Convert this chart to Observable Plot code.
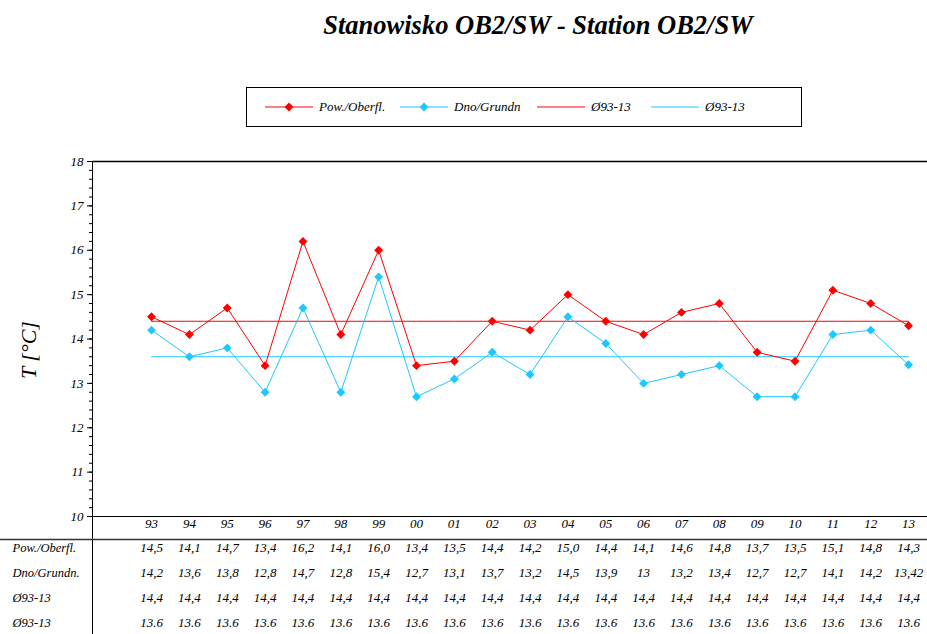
<!DOCTYPE html>
<html>
<head>
<meta charset="utf-8">
<script src="https://cdn.jsdelivr.net/npm/d3@7"></script>
<script src="https://cdn.jsdelivr.net/npm/@observablehq/plot@0.6"></script>
<style>
  html, body { margin: 0; padding: 0; background: #fff; }
  #wrap { position: relative; width: 927px; height: 634px; overflow: hidden; font-family: "Liberation Serif", "Times New Roman", "DejaVu Serif", serif; font-style: italic; }
  #head { position: relative; width: 927px; height: 140px; }
  #title { position: absolute; top: 10px; left: 538px; transform: translateX(-50%); white-space: nowrap; font-size: 26.5px; font-weight: bold; font-style: italic; color: #000; }
  #legend { position: absolute; left: 246px; top: 87px; width: 554px; height: 38px; border: 1px solid #000; }
  .item { position: absolute; top: 0; height: 38px; display: flex; align-items: center; font-size: 13px; white-space: nowrap; }
  .item svg { margin-right: 6px; }
  #chart svg { display: block; }
  #chart svg text { font-family: "Liberation Serif", "Times New Roman", "DejaVu Serif", serif; font-style: italic; }
</style>
</head>
<body>
<div id="wrap">
  <div id="head">
    <div id="title">Stanowisko OB2/SW - Station OB2/SW</div>
    <div id="legend"></div>
  </div>
  <div id="chart"></div>
</div>
<script>
// ---- data ----
const categories = ["93","94","95","96","97","98","99","00","01","02","03","04","05","06","07","08","09","10","11","12","13"];
const powValues = [14.5,14.1,14.7,13.4,16.2,14.1,16.0,13.4,13.5,14.4,14.2,15.0,14.4,14.1,14.6,14.8,13.7,13.5,15.1,14.8,14.3];
const dnoValues = [14.2,13.6,13.8,12.8,14.7,12.8,15.4,12.7,13.1,13.7,13.2,14.5,13.9,13,13.2,13.4,12.7,12.7,14.1,14.2,13.42];
const powAvg = [14.4,14.4,14.4,14.4,14.4,14.4,14.4,14.4,14.4,14.4,14.4,14.4,14.4,14.4,14.4,14.4,14.4,14.4,14.4,14.4,14.4];
const dnoAvg = [13.6,13.6,13.6,13.6,13.6,13.6,13.6,13.6,13.6,13.6,13.6,13.6,13.6,13.6,13.6,13.6,13.6,13.6,13.6,13.6,13.6];
const rowLabels = ["Pow./Oberfl.","Dno/Grundn.","Ø93-13","Ø93-13"];
const legendLabels = ["Pow./Oberfl.","Dno/Grundn","Ø93-13","Ø93-13"];
const yTicks = [10,11,12,13,14,15,16,17,18];

const RED = "#ff0000", CYAN = "#1ec8ff";
const FONT = "'Liberation Serif', 'Times New Roman', 'DejaVu Serif', serif";

// ---- legend ----
const legendItems = [
  {label: legendLabels[0], color: RED, marker: true, left: 18},
  {label: legendLabels[1], color: CYAN, marker: true, left: 153},
  {label: legendLabels[2], color: RED, marker: false, left: 290},
  {label: legendLabels[3], color: CYAN, marker: false, left: 404}
];
const legend = document.getElementById("legend");
for (const it of legendItems) {
  const div = document.createElement("div");
  div.className = "item";
  div.style.left = it.left + "px";
  div.innerHTML = `<svg width="48" height="12"><line x1="0" x2="48" y1="6" y2="6" stroke="${it.color}" stroke-width="1"/>` +
    (it.marker ? `<path d="M24,1.5L28.5,6L24,10.5L19.5,6Z" fill="${it.color}"/>` : "") +
    `</svg><span>${it.label}</span>`;
  legend.appendChild(div);
}

// ---- layout ----
const W = 927, H = 494, mt = 21, mb = 118, ml = 92, mr = 0;
const xLo = -1.56, xHi = 20.5;
const unitY = (H - mt - mb) / (18 - 10);
const unitX = (W - ml - mr) / (xHi - xLo);
const yAtPx = py => 10 - (py - (H - mb)) / unitY;
const xAtPx = px => xLo + (px - ml) / unitX;

const idx = categories.map((d, i) => i);
const comma = v => String(v).replace(".", ",");
const rows = [
  powValues.map(v => comma(v.toFixed(1))),
  dnoValues.map(v => comma(v)),
  powAvg.map(v => comma(v.toFixed(1))),
  dnoAvg.map(v => v.toFixed(1))
];
const rowDy = [35, 60, 85, 110];

const marks = [
  Plot.axisY({ticks: d3.range(10, 18.01, 0.2), tickSize: 3, tickFormat: () => ""}),
  Plot.axisY({ticks: yTicks, tickSize: 5, tickPadding: 4, fontSize: 13}),
  Plot.ruleY([18], {strokeWidth: 1.5}),
  Plot.ruleY([10]),
  Plot.ruleX([xLo], {y1: 18, y2: yAtPx(H)}),
  Plot.ruleY([yAtPx(399)], {x1: xAtPx(0), x2: xHi, strokeWidth: 1.5, stroke: "#333"}),
  Plot.line(idx, {x: i => i, y: i => powAvg[i], stroke: RED, strokeWidth: 1}),
  Plot.line(idx, {x: i => i, y: i => dnoAvg[i], stroke: CYAN, strokeWidth: 1}),
  Plot.line(idx, {x: i => i, y: i => dnoValues[i], stroke: CYAN, strokeWidth: 1}),
  Plot.line(idx, {x: i => i, y: i => powValues[i], stroke: RED, strokeWidth: 1}),
  Plot.dot(idx, {x: i => i, y: i => dnoValues[i], symbol: "diamond2", r: 4, fill: CYAN, stroke: null}),
  Plot.dot(idx, {x: i => i, y: i => powValues[i], symbol: "diamond2", r: 4, fill: RED, stroke: null}),
  Plot.text(idx, {x: i => i, text: i => categories[i], frameAnchor: "bottom", dy: 11, fontSize: 13}),
  Plot.text(["T [°C]"], {frameAnchor: "left", dx: -64, dy: 40, rotate: -90, fontSize: 22})
];
rows.forEach((r, k) => {
  marks.push(Plot.text(idx, {x: i => i, text: i => r[i], frameAnchor: "bottom", dy: rowDy[k], fontSize: 13}));
  marks.push(Plot.text([rowLabels[k]], {frameAnchor: "bottom-left", dx: -80, dy: rowDy[k], textAnchor: "start", fontSize: 12.5}));
});

const chart = Plot.plot({
  width: W, height: H,
  marginTop: mt, marginBottom: mb, marginLeft: ml, marginRight: mr,
  x: {type: "linear", domain: [xLo, xHi], axis: null},
  y: {domain: [10, 18]},
  style: {fontFamily: FONT, fontStyle: "italic", fontSize: "13px", color: "#000", background: "#fff", overflow: "visible"},
  marks
});
document.getElementById("chart").appendChild(chart);
</script>
</body>
</html>
